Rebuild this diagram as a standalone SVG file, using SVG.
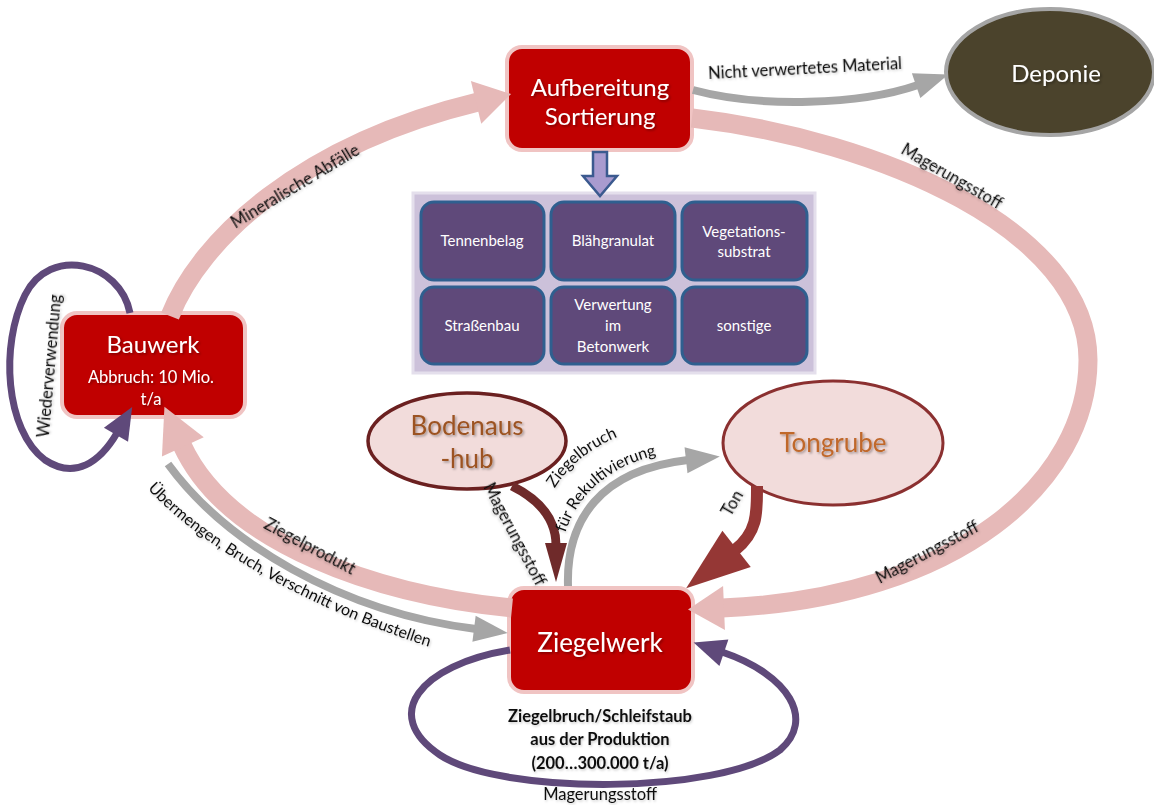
<svg xmlns="http://www.w3.org/2000/svg" width="1154" height="805" viewBox="0 0 1154 805">
<defs>
<style>
.pink{fill:none;stroke:#e6b9b8;stroke-width:19}
.gray{fill:none;stroke:#a6a6a6;stroke-width:8}
.purp{fill:none;stroke:#5f497a;stroke-width:7}
.red rect{fill:#c00000;stroke:#f0c4c3;stroke-width:4}
.wt{fill:#fff;font-family:Lato,"Open Sans",sans-serif;text-anchor:middle;filter:url(#ts)}
.lbl{fill:#111;font-family:Lato,"Open Sans",sans-serif;font-size:16.5px;text-anchor:middle;dominant-baseline:central;filter:url(#ls)}
.tp{fill:#111;font-family:Lato,"Open Sans",sans-serif;font-size:16px;filter:url(#ls)}
.cell rect{fill:#5f497a;stroke:#2f5f8f;stroke-width:3}
.cell text{fill:#fff;font-family:Lato,"Open Sans",sans-serif;font-size:15px;text-anchor:middle}
.ell text{font-family:Lato,"Open Sans",sans-serif;font-size:26px;text-anchor:middle;filter:url(#ts)}
</style>
<filter id="ts" x="-10%" y="-20%" width="130%" height="150%"><feDropShadow dx="1.5" dy="1.5" stdDeviation="1" flood-color="#000" flood-opacity="0.35"/></filter>
<filter id="ls" x="-10%" y="-20%" width="130%" height="150%"><feDropShadow dx="1" dy="1.5" stdDeviation="1" flood-color="#000" flood-opacity="0.2"/></filter>
<marker id="mPink" markerUnits="userSpaceOnUse" orient="auto" refX="0" refY="0" markerWidth="1" markerHeight="1" overflow="visible"><path d="M-2,-22 L34,0 L-2,22 Z" fill="#e6b9b8"/></marker>
<marker id="mPink2" markerUnits="userSpaceOnUse" orient="auto" refX="0" refY="0" markerWidth="1" markerHeight="1" overflow="visible"><path d="M-2,-23 L42,0 L-2,23 Z" fill="#e6b9b8"/></marker>
<marker id="mGray" markerUnits="userSpaceOnUse" orient="auto" refX="0" refY="0" markerWidth="1" markerHeight="1" overflow="visible"><path d="M-2,-13 L32,0 L-2,13 Z" fill="#a6a6a6"/></marker>
<marker id="mPurp" markerUnits="userSpaceOnUse" orient="auto" refX="0" refY="0" markerWidth="1" markerHeight="1" overflow="visible"><path d="M-2,-14 L30,0 L-2,14 Z" fill="#5f497a"/></marker>
<marker id="mMar" markerUnits="userSpaceOnUse" orient="auto" refX="0" refY="0" markerWidth="1" markerHeight="1" overflow="visible"><path d="M-2,-11 L37,0 L-2,11 Z" fill="#6f2a2a"/></marker>
<marker id="mTon" markerUnits="userSpaceOnUse" orient="auto" refX="0" refY="0" markerWidth="1" markerHeight="1" overflow="visible"><path d="M-2,-23 L62,0 L-2,23 Z" fill="#953735"/></marker>
</defs>
<rect width="1154" height="805" fill="#fff"/>

<g id="panel">
<rect x="413" y="193" width="402" height="180" fill="#ccc1da" stroke="#e4dfec" stroke-width="3"/>
</g>
<g id="n-tennenbelag" class="cell"><rect x="421" y="202" width="123" height="78" rx="13"/><text x="482" y="246">Tennenbelag</text></g>
<g id="n-blaehgranulat" class="cell"><rect x="551" y="202" width="124" height="78" rx="13"/><text x="613" y="246">Blähgranulat</text></g>
<g id="n-vegetation" class="cell"><rect x="682" y="202" width="125" height="78" rx="13"/><text x="744" y="237">Vegetations-</text><text x="744" y="257">substrat</text></g>
<g id="n-strassenbau" class="cell"><rect x="421" y="287" width="123" height="77" rx="13"/><text x="482" y="331">Straßenbau</text></g>
<g id="n-beton" class="cell"><rect x="551" y="287" width="124" height="77" rx="13"/><text x="613" y="310">Verwertung</text><text x="613" y="331">im</text><text x="613" y="352">Betonwerk</text></g>
<g id="n-sonstige" class="cell"><rect x="682" y="287" width="125" height="77" rx="13"/><text x="744" y="331">sonstige</text></g>

<g id="n-aufbereitung" class="red"><rect x="507" y="47" width="185" height="103" rx="15"/><text class="wt" x="600" y="96" font-size="24">Aufbereitung</text><text class="wt" x="600" y="125" font-size="24">Sortierung</text></g>
<g id="n-deponie"><ellipse cx="1050" cy="72" rx="104" ry="63" fill="#4b432c" stroke="#a5a5a5" stroke-width="4"/><text class="wt" x="1056" y="82" font-size="24">Deponie</text></g>
<g id="n-bauwerk" class="red"><rect x="62" y="313" width="183" height="104" rx="15"/><text class="wt" x="153" y="353" font-size="24">Bauwerk</text><text class="wt" x="151" y="383" font-size="16.5">Abbruch: 10 Mio.</text><text class="wt" x="151" y="405" font-size="16.5">t/a</text></g>
<g id="n-ziegelwerk" class="red"><rect x="509" y="588" width="184" height="104" rx="15"/><text class="wt" x="600" y="652" font-size="26">Ziegelwerk</text></g>
<g id="n-bodenaushub" class="ell"><ellipse cx="467" cy="441" rx="99" ry="48" fill="#f2dcdb" stroke="#6b2020" stroke-width="3.5"/><text x="467" y="435" fill="#9c5320">Bodenaus</text><text x="467" y="468" fill="#9c5320">-hub</text></g>
<g id="n-tongrube" class="ell"><ellipse cx="833" cy="443" rx="110" ry="62" fill="#f2dcdb" stroke="#8b3030" stroke-width="3"/><text x="833" y="452" fill="#c0682c" font-size="25">Tongrube</text></g>

<g id="connectors">
<path class="pink" d="M170,316 C 200,240 300,145 478,102" marker-end="url(#mPink)"/>
<path class="pink" d="M692,118 C 880,140 1088,230 1088,360 C 1088,480 960,598 722,608" marker-end="url(#mPink)"/>
<path class="pink" d="M512,608 C 380,595 228,545 182,445" marker-end="url(#mPink2)"/>
<path class="gray" d="M168,464 C 225,542 340,612 476,629" marker-end="url(#mGray)"/>
<path class="gray" d="M693,90 C 760,108 860,105 918,85" marker-end="url(#mGray)"/>
<path class="gray" d="M568,586 C 566,520 600,470 688,460" marker-end="url(#mGray)"/>
<path class="purp" d="M130,313 C 120,262 50,245 25,295 C 0,345 5,430 45,460 C 75,480 100,462 117,433" marker-end="url(#mPurp)"/>
<path class="purp" d="M510,650 C 420,665 380,715 440,755 C 500,795 720,795 780,750 C 815,720 790,675 722,652" marker-end="url(#mPurp)"/>
<path d="M512,486 C 540,500 556,520 556,545" fill="none" stroke="#6f2a2a" stroke-width="9" marker-end="url(#mMar)"/>
<path d="M757,486 C 757,512 758,532 735,550" fill="none" stroke="#953735" stroke-width="12" marker-end="url(#mTon)"/>
</g>

<g id="labels">
<text class="lbl" transform="translate(295,186) rotate(-31)">Mineralische Abfälle</text>
<text class="lbl" transform="translate(805,68) rotate(-3)">Nicht verwertetes Material</text>
<text class="lbl" transform="translate(952,176) rotate(30)">Magerungsstoff</text>
<text class="lbl" transform="translate(927,552) rotate(-28)">Magerungsstoff</text>
<text class="lbl" transform="translate(49,366) rotate(-85)">Wiederverwendung</text>
<text class="lbl" transform="translate(310,546) rotate(28)">Ziegelprodukt</text>
<path id="tpU" d="M140,480 C 200,552 330,617 440,650" fill="none"/>
<text class="tp" font-size="17" text-anchor="middle"><textPath href="#tpU" startOffset="50%">Übermengen, Bruch, Verschnitt von Baustellen</textPath></text>
<text class="lbl" font-size="11" transform="translate(515,534) rotate(62)">Magerungsstoff</text>
<path id="tpZ" d="M531,586 C 529,498 572,430 688,421" fill="none"/>
<path id="tpR" d="M558,586 C 556,515 593,459 688,450" fill="none"/>
<text class="tp"><textPath href="#tpZ" startOffset="102">Ziegelbruch</textPath></text>
<text class="tp"><textPath href="#tpR" startOffset="54">für Rekultivierung</textPath></text>
<text class="lbl" font-size="16" transform="translate(732,503) rotate(-60)">Ton</text>
<text class="lbl" font-size="17.5" font-weight="bold" x="600" y="716">Ziegelbruch/Schleifstaub</text>
<text class="lbl" font-size="17.5" font-weight="bold" x="600" y="739">aus der Produktion</text>
<text class="lbl" font-size="17.5" font-weight="bold" x="600" y="763">(200…300.000 t/a)</text>
<text class="lbl" font-size="17.5" x="600" y="794">Magerungsstoff</text>
</g>

<g id="arrow-down">
<path d="M593,152 L607,152 L607,176 L617,176 L600,196 L583,176 L593,176 Z" fill="#a99bcf" stroke="#3b5a8f" stroke-width="2.5"/>
</g>
</svg>
